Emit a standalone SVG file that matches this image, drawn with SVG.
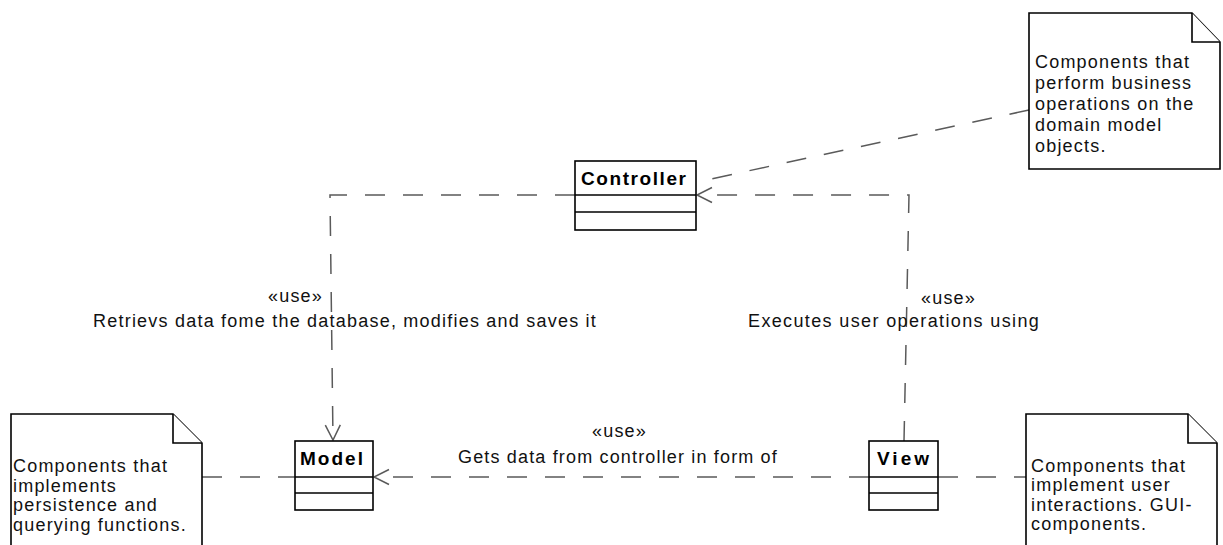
<svg xmlns="http://www.w3.org/2000/svg" width="1223" height="545" viewBox="0 0 1223 545">
  <style>
    .box { fill: #ffffff; stroke: #000000; stroke-width: 1.6; }
    .note { fill: #ffffff; stroke: #000000; stroke-width: 1.6; stroke-linejoin: miter; }
    .dep { fill: none; stroke: #5a5a5a; stroke-width: 1.5; stroke-dasharray: 20 18; }
    .txt { font-family: "Liberation Sans", Arial, sans-serif; font-size: 18px; fill: #111111; letter-spacing: 1.2px; }
    .name { font-family: "Liberation Sans", Arial, sans-serif; font-size: 19px; font-weight: bold; fill: #000000; }
  </style>
  <defs>
    <marker id="open-arrow" markerUnits="userSpaceOnUse" viewBox="-17 -9 19 18" markerWidth="19" markerHeight="18" refX="0" refY="0" orient="auto" overflow="visible">
      <path d="M -15 -7.5 L 0 0 L -15 7.5" fill="none" stroke="#5a5a5a" stroke-width="1.5" stroke-dasharray="none"/>
    </marker>
  </defs>

  <rect width="1223" height="545" fill="#ffffff"/>

  <!-- dependencies and note links -->
  <g id="connectors">
    <path id="controller-model" class="dep" d="M 575 195 L 330 195 L 333 440" marker-end="url(#open-arrow)"/>
    <path id="view-controller" class="dep" d="M 904 441 L 909 195 L 697 195" marker-end="url(#open-arrow)"/>
    <path id="view-model" class="dep" d="M 869 477 L 374 477" marker-end="url(#open-arrow)"/>
    <path id="note-model-link" class="dep" d="M 202 477 L 295 477"/>
    <path id="note-view-link" class="dep" d="M 938 477 L 1026 477"/>
    <path id="note-controller-link" class="dep" d="M 1029 110 L 697 182"/>

    <text class="txt" x="268" y="302">«use»</text>
    <text class="txt" x="93" y="327" textLength="504" lengthAdjust="spacing">Retrievs data fome the database, modifies and saves it</text>
    <text class="txt" x="921" y="304">«use»</text>
    <text class="txt" x="748" y="327" textLength="292" lengthAdjust="spacing">Executes user operations using</text>
    <text class="txt" x="592" y="437">«use»</text>
    <text class="txt" x="458" y="463" textLength="320" lengthAdjust="spacing">Gets data from controller in form of</text>
  </g>

  <!-- classes -->
  <g id="controller">
    <rect class="box" x="575" y="161" width="121" height="69"/>
    <line class="box" x1="575" y1="195" x2="696" y2="195"/>
    <line class="box" x1="575" y1="212" x2="696" y2="212"/>
    <text class="name" x="581" y="185" textLength="105" lengthAdjust="spacing">Controller</text>
  </g>

  <g id="model">
    <rect class="box" x="295" y="441" width="78" height="69"/>
    <line class="box" x1="295" y1="477" x2="373" y2="477"/>
    <line class="box" x1="295" y1="493" x2="373" y2="493"/>
    <text class="name" x="300" y="465" textLength="63" lengthAdjust="spacing">Model</text>
  </g>

  <g id="view">
    <rect class="box" x="869" y="441" width="69" height="69"/>
    <line class="box" x1="869" y1="477" x2="938" y2="477"/>
    <line class="box" x1="869" y1="493" x2="938" y2="493"/>
    <text class="name" x="877" y="465" textLength="52" lengthAdjust="spacing">View</text>
  </g>

  <!-- notes -->
  <g id="note-controller">
    <path class="note" d="M 1029 13 L 1192 13 L 1220 42 L 1220 169 L 1029 169 Z"/>
    <path class="note" d="M 1192 13 L 1192 42 L 1220 42" fill="none"/>
    <text class="txt" x="1035" y="68">Components that</text>
    <text class="txt" x="1035" y="89">perform business</text>
    <text class="txt" x="1035" y="110">operations on the</text>
    <text class="txt" x="1035" y="131">domain model</text>
    <text class="txt" x="1035" y="152">objects.</text>
  </g>

  <g id="note-model">
    <path class="note" d="M 11 414 L 173 414 L 202 443 L 202 560 L 11 560 Z"/>
    <path class="note" d="M 173 414 L 173 443 L 202 443" fill="none"/>
    <text class="txt" x="13" y="472">Components that</text>
    <text class="txt" x="13" y="491.5">implements</text>
    <text class="txt" x="13" y="511">persistence and</text>
    <text class="txt" x="13" y="530.5">querying functions.</text>
  </g>

  <g id="note-view">
    <path class="note" d="M 1026 414 L 1188 414 L 1217 443 L 1217 560 L 1026 560 Z"/>
    <path class="note" d="M 1188 414 L 1188 443 L 1217 443" fill="none"/>
    <text class="txt" x="1031" y="471.5">Components that</text>
    <text class="txt" x="1031" y="491">implement user</text>
    <text class="txt" x="1031" y="510.5">interactions. GUI-</text>
    <text class="txt" x="1031" y="530">components.</text>
  </g>
</svg>
